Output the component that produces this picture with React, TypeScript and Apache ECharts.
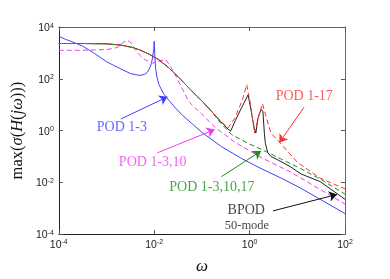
import React, { useEffect, useRef } from "react";
import * as echarts from "echarts";

// POD 1-3 (blue, solid)
const omegaPod3 = [1e-4, 1.4e-4, 2e-4, 3.16e-4, 5.6e-4, 1e-3, 1.41e-3, 2e-3, 3.16e-3, 4e-3, 5e-3, 6.3e-3, 7.1e-3, 7.9e-3, 8.7e-3, 9.3e-3, 9.77e-3, 1e-2, 1.012e-2, 1.035e-2, 1.07e-2, 1.15e-2, 1.26e-2, 1.58e-2, 2.04e-2, 2.8e-2, 3.9e-2, 6.8e-2, 0.1, 0.257, 0.68, 1.74, 4.6, 11.7, 100];
const magPod3 = [4400, 3300, 2600, 1820, 955, 457, 330, 240, 160, 145, 135, 148, 174, 240, 380, 700, 1400, 2800, 1900, 700, 251, 110, 59, 26, 14.5, 7.4, 3.9, 1.6, 0.85, 0.24, 0.083, 0.034, 0.0145, 0.006, 0.00062];

// POD 1-3,10 (magenta, dashed)
const omegaPod310 = [1e-4, 3.16e-4, 1e-3, 1.41e-3, 1.78e-3, 2.24e-3, 2.82e-3, 3.3e-3, 4.1e-3, 5e-3, 6.3e-3, 9.3e-3, 1.26e-2, 1.74e-2, 2.24e-2, 3e-2, 4.5e-2, 5.4e-2, 0.1, 0.19, 0.49, 1.74, 7.2, 100];
const magPod310 = [1260, 1260, 1350, 1480, 1700, 2600, 3000, 2400, 1260, 800, 560, 400, 480, 560, 280, 105, 24, 12.6, 4.2, 1.32, 0.355, 0.091, 0.025, 0.00145];

// BPOD 50-mode (black, solid)
const omegaBpod = [1e-4, 3.16e-4, 1e-3, 2e-3, 3.5e-3, 5e-3, 7.9e-3, 1.26e-2, 2e-2, 3.16e-2, 5e-2, 7.9e-2, 0.1, 0.158, 0.25, 0.355, 0.4, 0.5, 0.71, 0.93, 1.07, 1.26, 1.35, 1.51, 1.74, 1.9, 2.04, 2.14, 2.4, 2.8, 4.1, 7.2, 12, 30, 100];
const magBpod = [2300, 2300, 2240, 2000, 1620, 1300, 880, 540, 270, 120, 50, 21, 14, 5.6, 2.2, 1.12, 0.95, 2.4, 9, 24, 6.3, 1.12, 0.8, 3.2, 6.5, 5.6, 0.79, 0.32, 0.14, 0.1, 0.07, 0.04, 0.021, 0.0107, 0.0022];

// POD 1-3,10,17 (green, dashed)
const omegaPod31017 = [1e-4, 3.16e-4, 1e-3, 2e-3, 3.5e-3, 5e-3, 7.9e-3, 1.26e-2, 2e-2, 3.16e-2, 5e-2, 7.9e-2, 0.1, 0.158, 0.25, 0.42, 1.0, 1.74, 4.6, 11.7, 30, 100];
const magPod31017 = [2300, 2300, 2240, 2000, 1620, 1300, 880, 540, 270, 120, 50, 21, 14, 5.6, 1.9, 0.69, 0.3, 0.19, 0.079, 0.034, 0.0135, 0.0035];

// POD 1-17 (red, dashed)
const omegaPod17 = [1e-4, 3.16e-4, 1e-3, 2e-3, 3.5e-3, 5e-3, 7.9e-3, 1.26e-2, 2e-2, 3.16e-2, 5e-2, 7.9e-2, 0.1, 0.158, 0.25, 0.355, 0.5, 0.71, 0.87, 1.05, 1.26, 1.58, 1.86, 2.24, 2.8, 4, 10, 30, 100];
const magPod17 = [2300, 2300, 2240, 2000, 1620, 1300, 880, 540, 270, 120, 50, 21, 14, 5.6, 2.2, 1.26, 3.2, 16, 59, 10, 0.8, 4, 11, 3.2, 0.8, 0.4, 0.06, 0.0145, 0.0056];

// Annotation texts (anchored in data coordinates)
const labelTexts = ["POD 1-3", "POD 1-3,10", "POD 1-3,10,17", "POD 1-17", "BPOD", "50-mode"];
const labelAnchors = [[2.1e-3, 1.4], [9.3e-3, 0.063], [0.162, 0.0071], [14, 22], [0.85, 9.3e-4], [0.88, 2.3e-4]];
// Arrows: [from, to]
const arrowFrom = [[2.0e-3, 2.8], [1.17e-2, 0.138], [0.257, 0.0166], [13.8, 7.9], [3.1, 7.9e-4]];
const arrowTo = [[1.9e-2, 20], [0.186, 1.1], [1.74, 0.162], [4.2, 0.34], [68, 3.4e-3]];

const xTicks = [1e-4, 1e-2, 1, 1e2];
const yTicks = [1e-4, 1e-2, 1, 1e2, 1e4];

const BLUE = "#4040ff";
const MAGENTA = "#f03cf0";
const GREEN = "#1e8c1e";
const RED = "#ff3030";
const BLACK = "#222222";
const labelColors = [BLUE, MAGENTA, GREEN, RED, "#111", "#111"];
const labelSizes = [14, 14, 14, 14, 14, 12.5];
const FONT = "Liberation Serif";
const TICKFONT = "Liberation Sans";

const zip = (xs: number[], ys: number[]) => xs.map((x, i) => [x, ys[i]]);

const powLabel = (v: number) => {
  const e = Math.round(Math.log10(v));
  return `{b|10}{s|${e}}`;
};

const tickRich = {
  b: { fontFamily: TICKFONT, fontSize: 10.5, color: "#222", verticalAlign: "bottom", lineHeight: 11 },
  s: { fontFamily: TICKFONT, fontSize: 7, color: "#222", verticalAlign: "top", lineHeight: 8, padding: [0, 0, 7, 0] },
};

export default function App() {
  const ref = useRef<HTMLDivElement>(null);
  useEffect(() => {
    if (!ref.current) return;
    const chart = echarts.init(ref.current, undefined, { renderer: "svg" });
    const lineSeries = (name: string, data: number[][], color: string, dashed: boolean, z: number, dashOffset = 0) => ({
      type: "line",
      name,
      data,
      showSymbol: false,
      symbol: "none",
      z,
      lineStyle: { color, width: 1, type: dashed ? [5, 3] : "solid", dashOffset },
      silent: true,
    });
    const axisCommon = {
      type: "log",
      logBase: 10,
      splitLine: { show: false },
      minorTick: { show: false },
      axisTick: { show: true, inside: true, length: 4, lineStyle: { color: "#555" } },
    };
    chart.setOption({
      animation: false,
      grid: { left: 55, right: 45, top: 27, bottom: 38, show: false },
      xAxis: [
        {
          ...axisCommon,
          min: 1e-4,
          max: 1e2,
          interval: 2,
          axisLine: { show: true, lineStyle: { color: "#222", width: 1 } },
          axisLabel: { margin: 4, formatter: powLabel, rich: tickRich, customValues: xTicks },
          axisTick: { ...axisCommon.axisTick, customValues: xTicks },
          name: "ω",
          nameLocation: "middle",
          nameGap: 22,
          nameTextStyle: { fontFamily: FONT, fontStyle: "italic", fontSize: 17, color: "#111" },
        },
        {
          ...axisCommon,
          position: "top",
          min: 1e-4,
          max: 1e2,
          interval: 2,
          axisLine: { show: true, lineStyle: { color: "#666", width: 1 } },
          axisLabel: { show: false },
          axisTick: { ...axisCommon.axisTick, customValues: xTicks },
        },
      ],
      yAxis: [
        {
          ...axisCommon,
          min: 1e-4,
          max: 1e4,
          interval: 2,
          axisLine: { show: true, lineStyle: { color: "#222", width: 1 } },
          axisLabel: { margin: 5, formatter: powLabel, rich: tickRich, customValues: yTicks },
          axisTick: { ...axisCommon.axisTick, customValues: yTicks },
          name: "{r|max(}{i|σ}{r|(}{i|H}{r|(}{i|jω}{r|)))}",
          nameLocation: "middle",
          nameRotate: 90,
          nameGap: 25,
          nameTextStyle: {
            fontFamily: FONT,
            fontSize: 16.5,
            color: "#111",
            rich: {
              r: { fontFamily: FONT, fontSize: 16.5, color: "#111" },
              i: { fontFamily: FONT, fontSize: 16.5, color: "#111", fontStyle: "italic" },
            },
          },
        },
        {
          ...axisCommon,
          position: "right",
          min: 1e-4,
          max: 1e4,
          interval: 2,
          axisLine: { show: true, lineStyle: { color: "#666", width: 1 } },
          axisLabel: { show: false },
          axisTick: { ...axisCommon.axisTick, customValues: yTicks },
        },
      ],
      series: [
        lineSeries("POD 1-3", zip(omegaPod3, magPod3), BLUE, false, 2),
        lineSeries("POD 1-3,10", zip(omegaPod310, magPod310), MAGENTA, true, 3),
        lineSeries("BPOD 50-mode", zip(omegaBpod, magBpod), BLACK, false, 4),
        lineSeries("POD 1-3,10,17", zip(omegaPod31017, magPod31017), GREEN, true, 5, 4),
        lineSeries("POD 1-17", zip(omegaPod17, magPod17), RED, true, 6),
        {
          type: "lines",
          name: "arrows",
          coordinateSystem: "cartesian2d",
          silent: true,
          z: 7,
          symbol: ["none", "arrow"],
          symbolSize: 8,
          lineStyle: { width: 1, opacity: 1 },
          data: arrowFrom.map((f, i) => ({
            coords: [f, arrowTo[i]],
            lineStyle: { color: labelColors[i], width: 1, type: "solid", opacity: 1 },
          })),
        },
        {
          type: "scatter",
          name: "annotations",
          silent: true,
          z: 8,
          symbol: "circle",
          symbolSize: 1,
          itemStyle: { color: "rgba(0,0,0,0)" },
          data: labelTexts.map((t, i) => ({
            value: labelAnchors[i],
            label: {
              show: true,
              position: "inside",
              formatter: t,
              color: labelColors[i],
              fontFamily: FONT,
              fontSize: labelSizes[i],
            },
          })),
        },
      ],
    });
    return () => chart.dispose();
  }, []);
  return <div ref={ref} style={{ position: "fixed", left: 0, top: 0, width: 390, height: 279 }} />;
}
